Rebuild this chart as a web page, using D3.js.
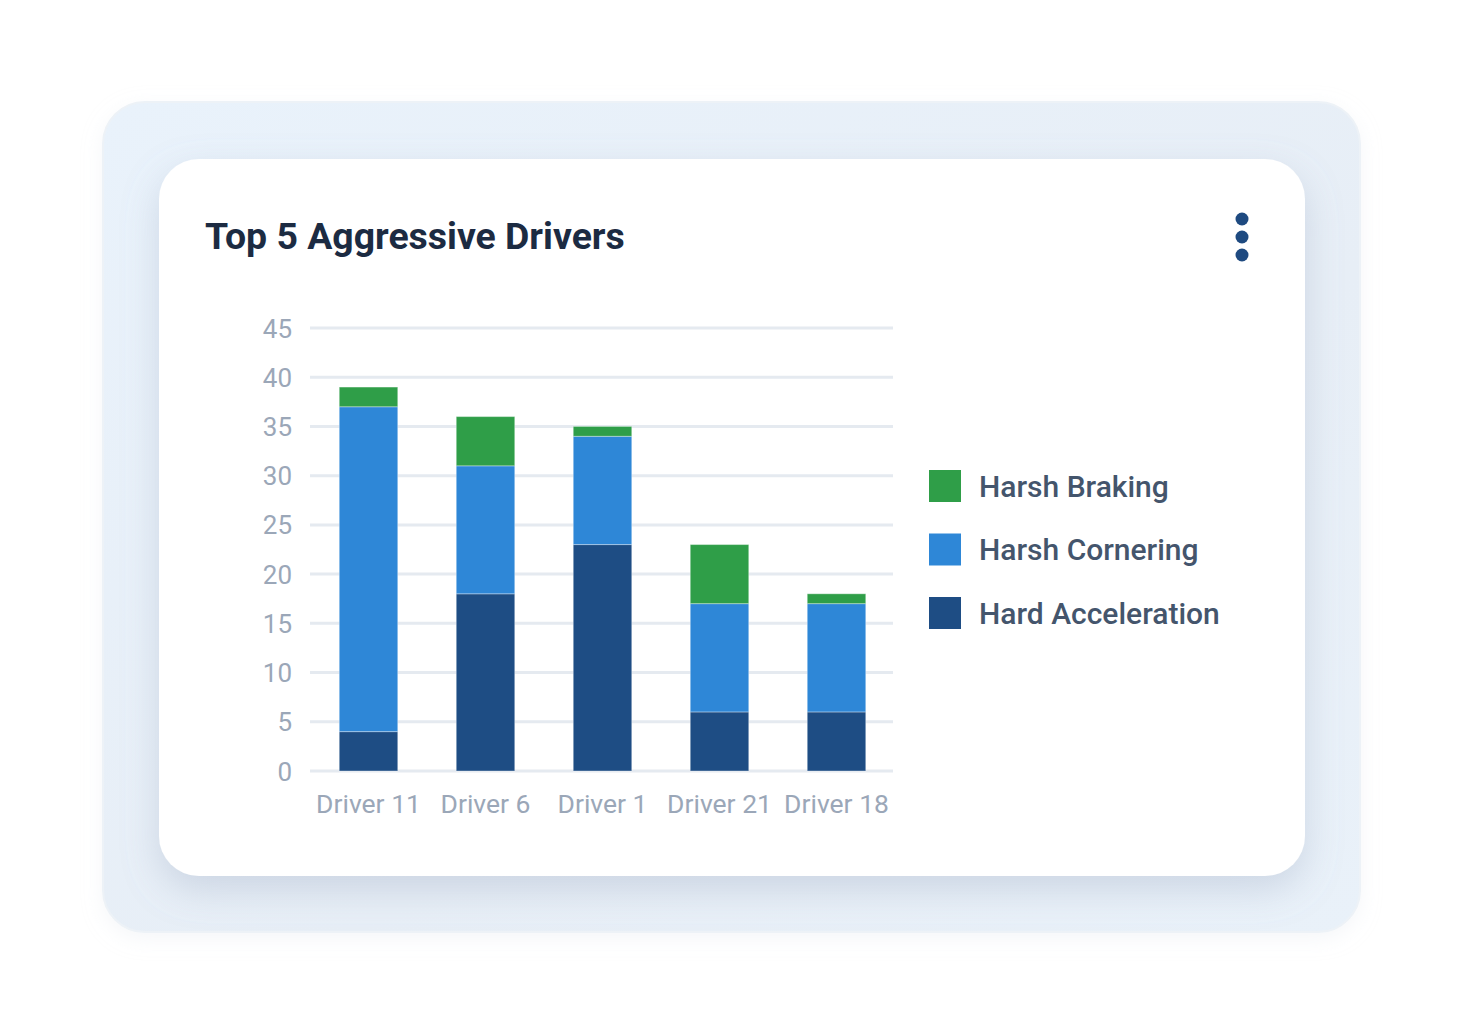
<!DOCTYPE html>
<html><head><meta charset="utf-8">
<script src="https://cdn.jsdelivr.net/npm/d3@7"></script>
<style>html,body{margin:0;padding:0;background:#fff;}svg{display:block;}</style>
</head><body>
<svg id="c" width="1464" height="1035"></svg>
<script>
const drivers = ["Driver 11","Driver 6","Driver 1","Driver 21","Driver 18"];
const hardAcceleration = [4, 18, 23, 6, 6];
const harshCornering = [33, 13, 11, 11, 11];
const harshBraking = [2, 5, 1, 6, 1];
const seriesNames = ["Hard Acceleration","Harsh Cornering","Harsh Braking"];
const seriesColors = ["#1e4d84","#2e87d7","#2f9e48"];
const yTicks = [0,5,10,15,20,25,30,35,40,45];
const legendOrder = ["Harsh Braking","Harsh Cornering","Hard Acceleration"];
const title = "Top 5 Aggressive Drivers";

const svg = d3.select("#c");
const defs = svg.append("defs");
const g1 = defs.append("linearGradient").attr("id","outerG").attr("x1",0).attr("y1",0).attr("x2",1).attr("y2",1);
g1.append("stop").attr("offset","0%").attr("stop-color","#e9f2fb");
g1.append("stop").attr("offset","60%").attr("stop-color","#e7eef6");
g1.append("stop").attr("offset","100%").attr("stop-color","#e9f1f9");
const f = defs.append("filter").attr("id","sh").attr("x","-20%").attr("y","-20%").attr("width","140%").attr("height","150%");
f.append("feDropShadow").attr("dx",0).attr("dy",14).attr("stdDeviation",18).attr("flood-color","#8a9bb5").attr("flood-opacity",0.3);
const f2 = defs.append("filter").attr("id","sh2").attr("x","-10%").attr("y","-10%").attr("width","120%").attr("height","125%");
f2.append("feDropShadow").attr("dx",0).attr("dy",6).attr("stdDeviation",10).attr("flood-color","#d5dde7").attr("flood-opacity",0.25);

// outer panel
svg.append("rect").attr("x",103).attr("y",102).attr("width",1257).attr("height",830).attr("rx",42)
  .attr("fill","url(#outerG)").attr("stroke","#edf2f7").attr("stroke-width",2).attr("filter","url(#sh2)");
// inner card
svg.append("rect").attr("x",159).attr("y",159).attr("width",1146).attr("height",717).attr("rx",40)
  .attr("fill","#ffffff").attr("filter","url(#sh)");

// title
svg.append("text").attr("x",205).attr("y",249).text(title)
  .attr("font-family","Roboto").attr("font-weight",700).attr("font-size",37.4).attr("fill","#1c2b42");

// menu dots
svg.append("g").selectAll("circle").data([0,1,2]).join("circle")
  .attr("cx",1242).attr("cy",d=>219+d*18).attr("r",6.5).attr("fill","#1e4a80");

// chart
const x = d3.scaleBand().domain(drivers).range([310,895]).paddingInner(0.5).paddingOuter(0.25);
const y = d3.scaleLinear().domain([0,45]).range([771,328]);

const grid = svg.append("g");
grid.selectAll("line").data(yTicks).join("line")
  .attr("x1",310).attr("x2",893).attr("y1",d=>y(d)).attr("y2",d=>y(d))
  .attr("stroke","#e5eaf0").attr("stroke-width",3);

const yAxis = svg.append("g").attr("transform","translate(292,0)")
  .call(d3.axisLeft(y).tickValues(yTicks).tickSize(0).tickPadding(0));
yAxis.select(".domain").remove();
yAxis.selectAll("text").attr("font-family","Roboto").attr("font-size",26).attr("fill","#9ba7b8").attr("dy","0.35em");

const xAxis = svg.append("g").attr("transform","translate(0,789)")
  .call(d3.axisBottom(x).tickSize(0).tickPadding(0));
xAxis.select(".domain").remove();
xAxis.selectAll("text").attr("font-family","Roboto").attr("font-size",26.5).attr("fill","#9ba7b8").attr("dy","0.9em");

const rows = drivers.map((d,i)=>({driver:d,"Hard Acceleration":hardAcceleration[i],"Harsh Cornering":harshCornering[i],"Harsh Braking":harshBraking[i]}));
const stack = d3.stack().keys(seriesNames)(rows);
const color = d3.scaleOrdinal().domain(seriesNames).range(seriesColors);

svg.append("g").selectAll("g").data(stack).join("g").attr("fill",s=>color(s.key))
  .selectAll("rect").data(s=>s).join("rect")
  .attr("x",d=>x(d.data.driver)).attr("width",x.bandwidth())
  .attr("y",d=>y(d[1])).attr("height",d=>y(d[0])-y(d[1]))
  .attr("stroke","rgba(255,255,255,0.35)").attr("stroke-width",1);

// legend
const lg = svg.append("g").selectAll("g").data(legendOrder).join("g")
  .attr("transform",(d,i)=>`translate(929,${470+i*63.5})`);
lg.append("rect").attr("width",32).attr("height",32).attr("fill",d=>color(d));
lg.append("text").attr("x",50).attr("y",16).attr("dy","0.35em").text(d=>d)
  .attr("font-family","Roboto").attr("font-weight",500).attr("font-size",30).attr("fill","#44556c");
</script>
</body></html>
